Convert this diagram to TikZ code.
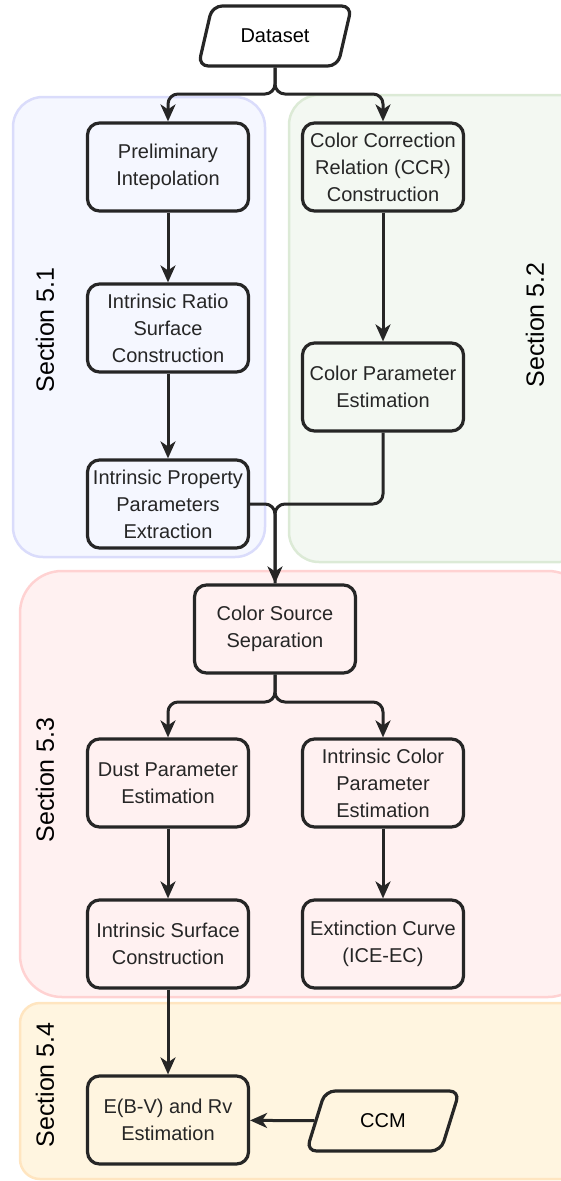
\documentclass[tikz,border=0pt]{standalone}
\usepackage{fontspec}
\setmainfont{Liberation Sans}
\usetikzlibrary{arrows.meta,positioning,shapes.geometric,calc}
\definecolor{Ink}{HTML}{262626}
\definecolor{BlueFill}{HTML}{F5F7FF}
\definecolor{BlueLine}{HTML}{DADCFB}
\definecolor{GreenFill}{HTML}{F3F8F2}
\definecolor{GreenLine}{HTML}{DCEAD6}
\definecolor{RedFill}{HTML}{FFF1F1}
\definecolor{RedLine}{HTML}{FFD2D2}
\definecolor{SandFill}{HTML}{FFF5E0}
\definecolor{SandLine}{HTML}{FFE5C0}

\begin{document}
\begin{tikzpicture}[x=1pt,y=-1pt,
    stage/.style={draw=Ink,line width=3.2pt,rounded corners=12pt,align=center,
      minimum width=161pt,minimum height=88pt,inner sep=2pt,text=Ink,
      font=\fontsize{20}{27}\selectfont},
    io/.style={draw=Ink,line width=3.2pt,trapezium,trapezium left angle=68,
      trapezium right angle=112,rounded corners=10pt,trapezium stretches=true,
      minimum width=154pt,minimum height=60pt,text=black,
      font=\fontsize{20}{27}\selectfont},
    flow/.style={draw=Ink,line width=3pt,rounded corners=10pt,
      -{Stealth[length=17pt,width=15pt,inset=5pt]}},
    link/.style={draw=Ink,line width=3pt,rounded corners=10pt},
    part/.style={rotate=90,font=\fontsize{25}{30}\selectfont}]
  \useasboundingbox (0,0) rectangle (561,1181);

  % section panels
  \filldraw[fill=BlueFill,draw=BlueLine,line width=2.5pt,rounded corners=30pt] (13,97) rectangle (265,557);
  \filldraw[fill=GreenFill,draw=GreenLine,line width=2.5pt,rounded corners=30pt] (289,95) rectangle (590,562);
  \filldraw[fill=RedFill,draw=RedLine,line width=2.5pt,rounded corners=42pt] (20,571) rectangle (590,997);
  \filldraw[fill=SandFill,draw=SandLine,line width=2.5pt,rounded corners=20pt] (20,1003) rectangle (590,1179);

  \node[part] (s1) at (45,330) {Section 5.1};
  \node[part] (s2) at (535,325) {Section 5.2};
  \node[part] (s3) at (45,780) {Section 5.3};
  \node[part] (s4) at (45,1085) {Section 5.4};

  \node[io] (data) at (275,36) {Dataset};

  \node[stage] (prelim) at (168,167) {Preliminary\\Intepolation};
  \node[stage] (ratio) at (168,328) {Intrinsic Ratio\\Surface\\Construction};
  \node[stage] (prop) at (168,504) {Intrinsic Property\\Parameters\\Extraction};
  \node[stage] (ccr) at (383,167) {Color Correction\\Relation (CCR)\\Construction};
  \node[stage] (cpe) at (383,387) {Color Parameter\\Estimation};
  \node[stage] (srcsep) at (275,629) {Color Source\\Separation};
  \node[stage] (dust) at (168,783) {Dust Parameter\\Estimation};
  \node[stage] (icpe) at (383,783) {Intrinsic Color\\Parameter\\Estimation};
  \node[stage] (isurf) at (168,944) {Intrinsic Surface\\Construction};
  \node[stage] (ext) at (383,944) {Extinction Curve\\(ICE-EC)};
  \node[stage] (ebv) at (168,1120) {E(B-V) and Rv\\Estimation};
  \node[io] (ccm) at (383,1121) {CCM};

  \coordinate (fork1) at (275,94);
  \coordinate (fork2) at (275,702);
  \coordinate (join) at (prop.east -| srcsep.north);

  \draw[flow] (data.south) -- (fork1) -| (prelim.north);
  \draw[flow] (data.south) -- (fork1) -| (ccr.north);
  \draw[flow] (prelim) -- (ratio);
  \draw[flow] (ratio) -- (prop);
  \draw[flow] (ccr) -- (cpe);
  \draw[link] (cpe.south) |- (join) -- (srcsep.north);
  \draw[flow] (prop.east) -| (srcsep.north);
  \draw[flow] (srcsep.south) -- (fork2) -| (dust.north);
  \draw[flow] (srcsep.south) -- (fork2) -| (icpe.north);
  \draw[flow] (dust) -- (isurf);
  \draw[flow] (icpe) -- (ext);
  \draw[flow] (isurf) -- (ebv);
  \draw[flow] (ccm) -- (ebv);
\end{tikzpicture}
\end{document}
